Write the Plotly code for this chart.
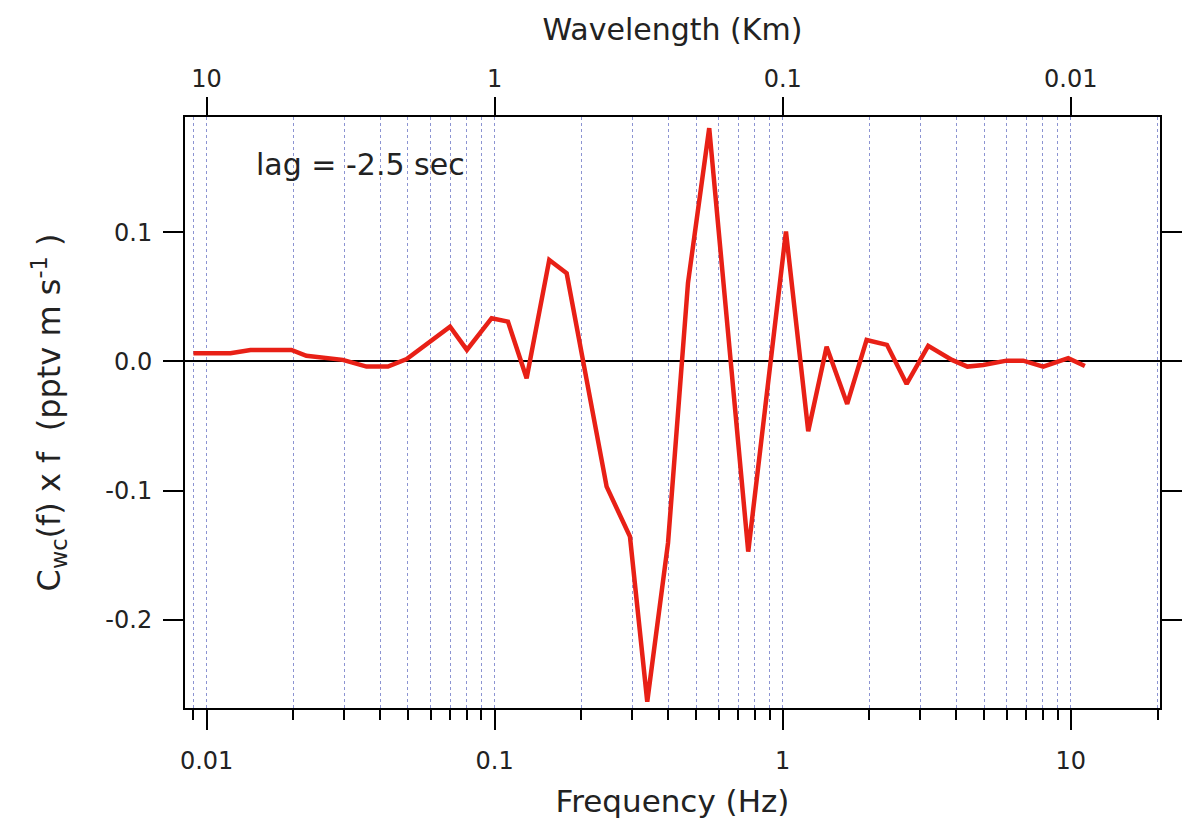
import plotly.graph_objects as go

# Frequency (Hz) and cospectrum C_wc(f) x f (pptv m s^-1)
freq = [0.0090, 0.0121, 0.0142, 0.0197, 0.0222, 0.0297, 0.0359, 0.0426, 0.0495,
        0.0700, 0.0801, 0.0976, 0.1112, 0.1291, 0.1547, 0.1778, 0.2447, 0.2949,
        0.3386, 0.3997, 0.4689, 0.5556, 0.7589, 1.026, 1.226, 1.420, 1.674,
        1.955, 2.300, 2.692, 3.199, 3.867, 4.376, 4.966, 5.985, 6.834, 8.022,
        8.807, 9.795, 11.19]
cospec = [0.0063, 0.0063, 0.0089, 0.0089, 0.0043, 0.0012, -0.0040, -0.0040, 0.0019,
          0.0269, 0.0089, 0.0334, 0.0308, -0.0130, 0.0785, 0.0682, -0.0968, -0.1355,
          -0.2631, -0.1404, 0.0607, 0.1804, -0.1471, 0.1004, -0.0540, 0.0114, -0.0329,
          0.0166, 0.0128, -0.0174, 0.0120, 0.0012, -0.0040, -0.0027, 0.0006, 0.0006,
          -0.0040, -0.0009, 0.0025, -0.0035]

freq_ticks = [0.01, 0.1, 1, 10]
freq_ticktext = ["0.01", "0.1", "1", "10"]
minor_freq = [0.009] + [m * 10 ** e for e in (-2, -1, 0, 1) for m in range(2, 10)] + [20]
wavelength_ticktext = ["10", "1", "0.1", "0.01"]   # km, at wavelength = 0.1 km / f
y_ticks = [-0.2, -0.1, 0.0, 0.1]
y_ticktext = ["-0.2", "-0.1", "0.0", "0.1"]

FONT = "DejaVu Sans"
TXT = "#222"
RED = "rgb(232,32,22)"
GRID = "rgb(140,148,210)"

fig = go.Figure()
fig.add_trace(go.Scatter(x=freq, y=cospec, mode="lines",
                         line=dict(color=RED, width=4.5), showlegend=False,
                         hoverinfo="x+y"))
fig.add_trace(go.Scatter(x=freq, y=cospec, mode="lines", xaxis="x2",
                         line=dict(width=0, color="rgba(0,0,0,0)"),
                         showlegend=False, hoverinfo="skip"))

xr = [-2.075, 1.3096]
fig.update_layout(
    width=1192, height=828,
    margin=dict(l=177, r=40, t=109, b=128),
    paper_bgcolor="white", plot_bgcolor="white",
    font=dict(family=FONT, size=24, color=TXT),
    xaxis=dict(type="log", range=xr, tickvals=freq_ticks, ticktext=freq_ticktext,
               ticks="outside", ticklen=20, tickwidth=2, tickcolor="black",
               showline=True, linecolor="black", linewidth=2, mirror=True,
               showgrid=True, gridcolor=GRID, griddash="dot", gridwidth=1,
               minor=dict(tickvals=minor_freq, ticks="outside", ticklen=10,
                          tickwidth=2, tickcolor="black", showgrid=True,
                          gridcolor=GRID, griddash="dot", gridwidth=1),
               tickfont=dict(size=24), ticklabelstandoff=10,
               title=dict(text="Frequency (Hz)", font=dict(size=31), standoff=17),
               zeroline=False),
    xaxis2=dict(type="log", range=xr, overlaying="x", side="top", anchor="y",
                tickvals=freq_ticks, ticktext=wavelength_ticktext,
                ticks="outside", ticklen=18, tickwidth=2, tickcolor="black",
                showline=True, linecolor="black", linewidth=2,
                showgrid=False, zeroline=False, tickfont=dict(size=24),
                title=dict(text="Wavelength (Km)", font=dict(size=30), standoff=16)),
    yaxis=dict(range=[-0.268, 0.189], tickvals=y_ticks, ticktext=y_ticktext,
               ticks="outside", ticklen=20, tickwidth=2, tickcolor="black",
               showline=True, linecolor="black", linewidth=2, mirror="ticks",
               showgrid=False, zeroline=True, zerolinecolor="black", zerolinewidth=2,
               tickfont=dict(size=24), ticklabelstandoff=6,
               title=dict(text="C<sub>wc</sub>(f) x f  (pptv m s<sup>-1</sup> )",
                          font=dict(size=32), standoff=35)),
    annotations=[dict(text="lag = -2.5 sec", xref="paper", yref="paper",
                      x=0.1795, y=0.920, xanchor="center", yanchor="middle",
                      showarrow=False, font=dict(size=30, color=TXT))],
)

fig.write_html("out.html")
